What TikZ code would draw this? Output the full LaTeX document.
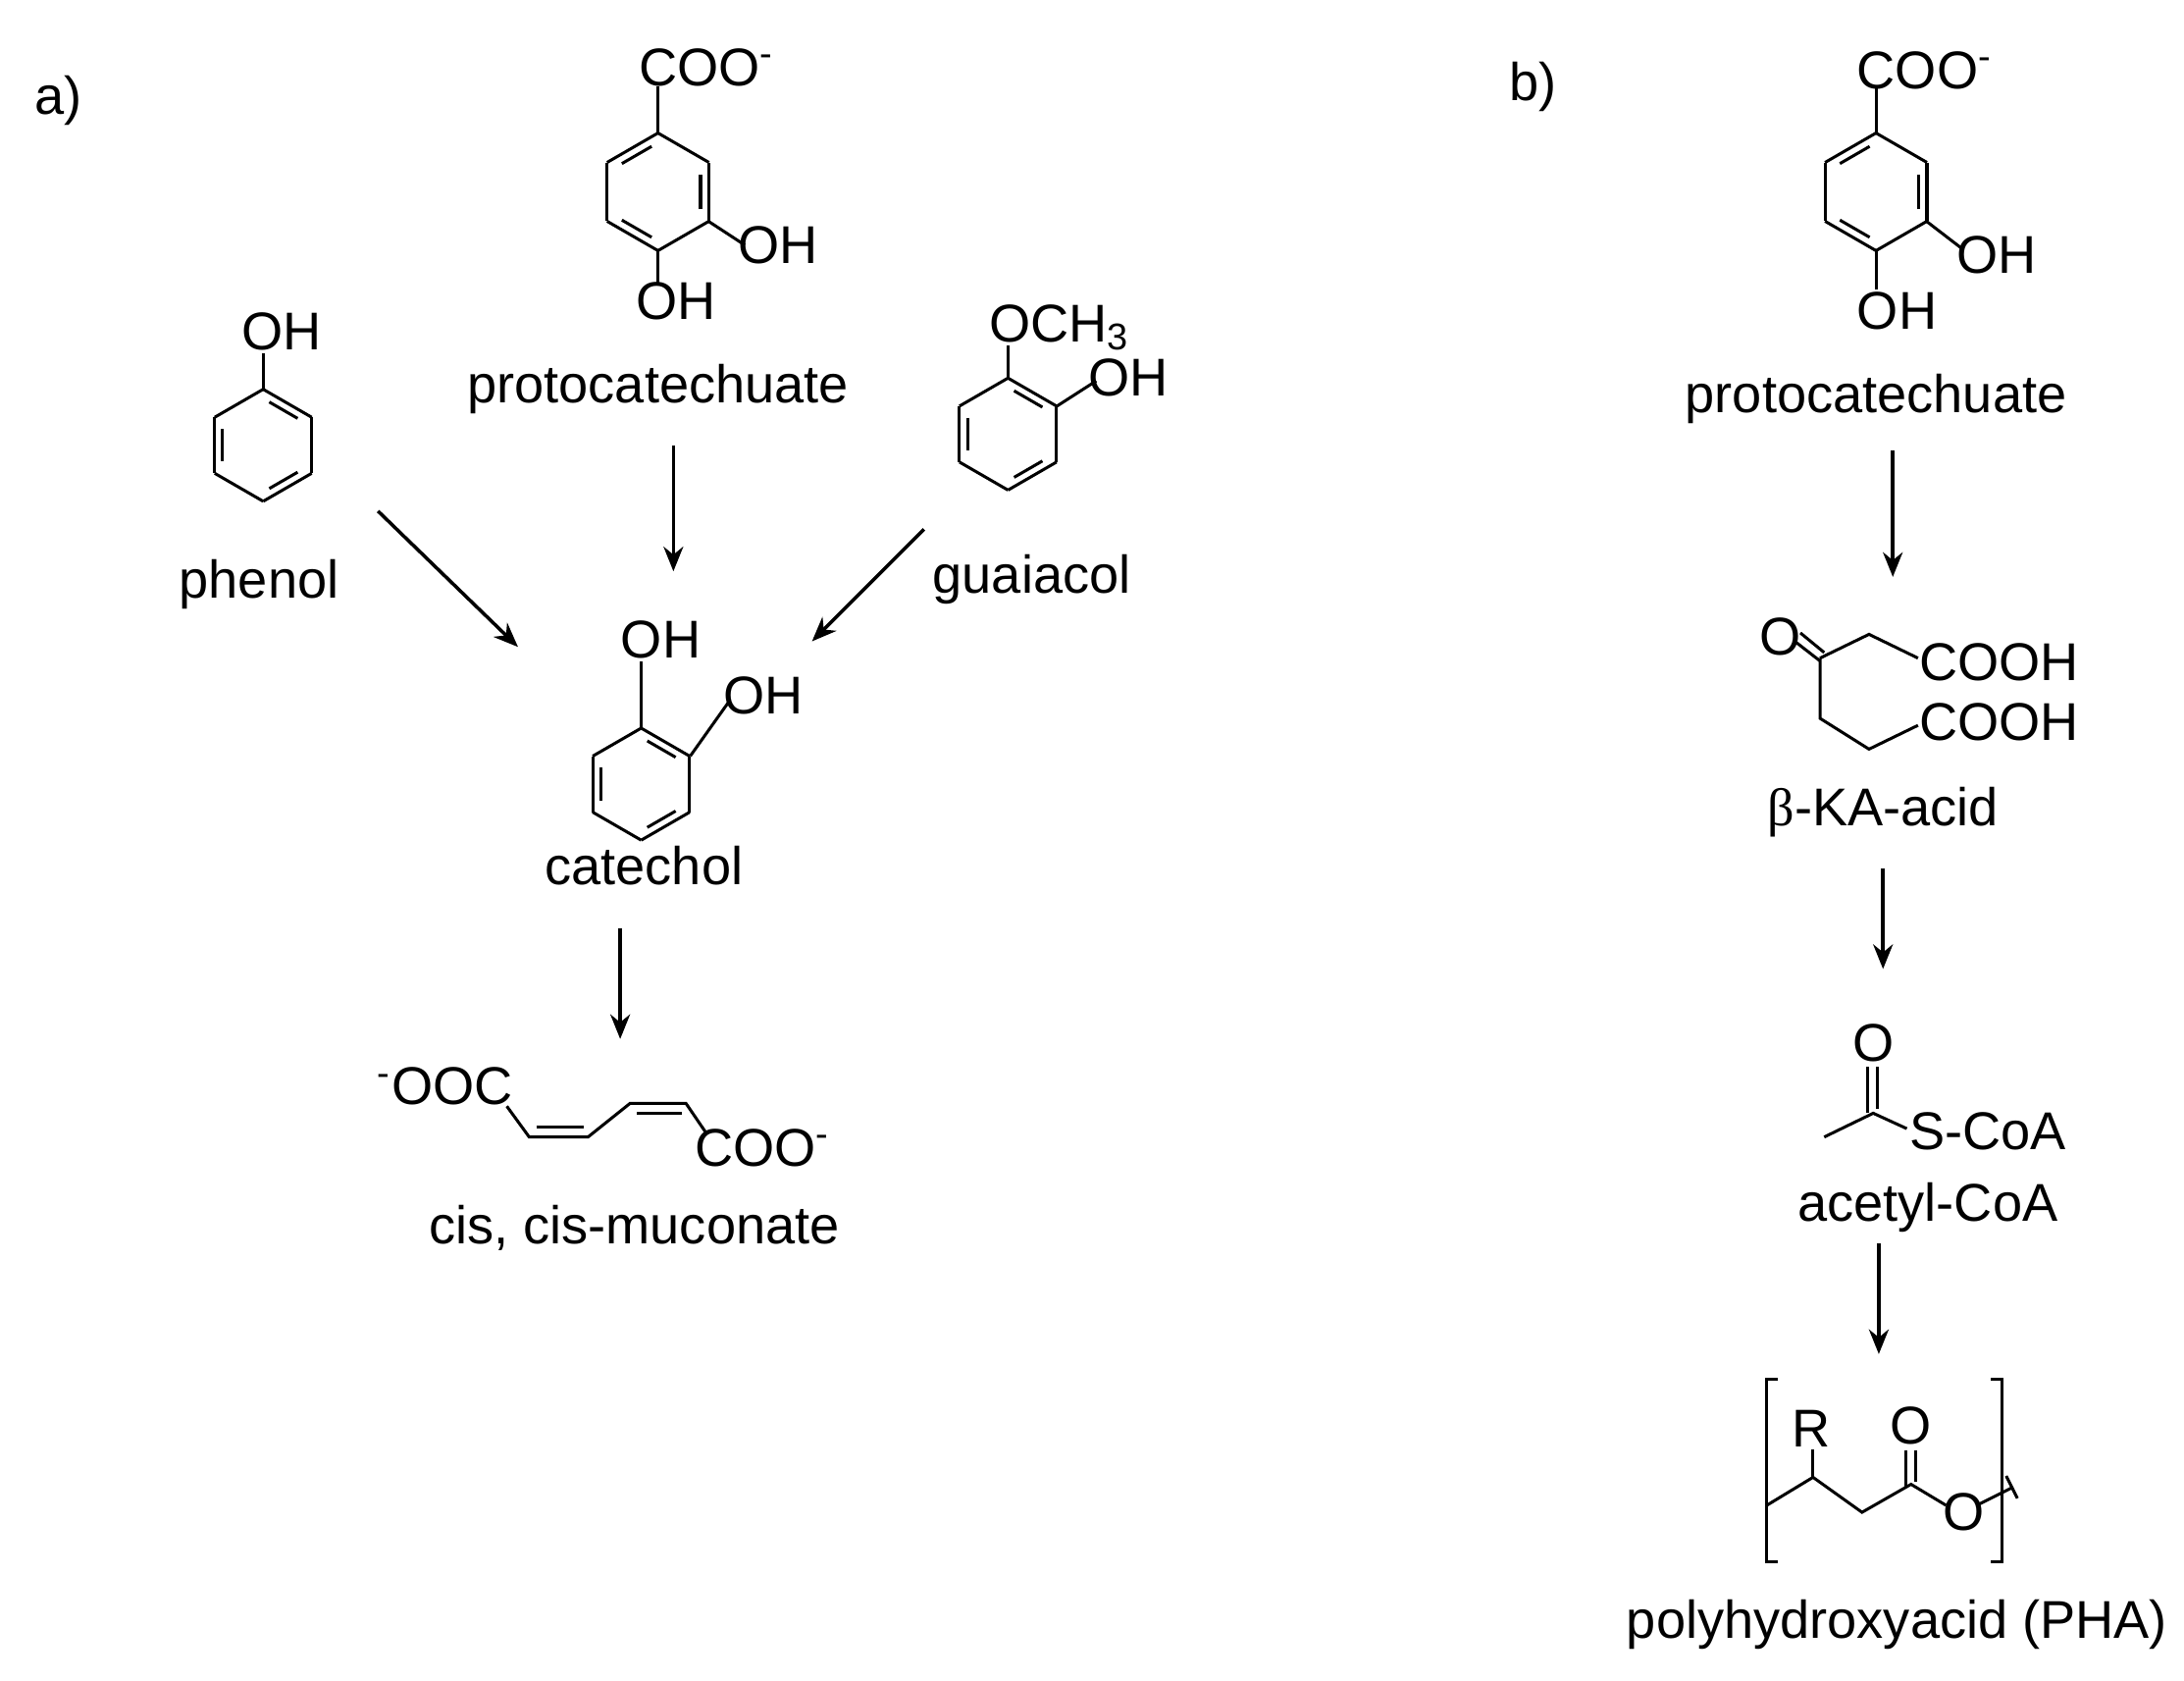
\documentclass[tikz,border=0pt]{standalone}
\usepackage{fontspec}
\setmainfont{Liberation Sans}
\newfontfamily\grk{Liberation Serif}
\usetikzlibrary{arrows.meta}
\begin{document}
\begin{tikzpicture}[x=0.01cm,y=-0.01cm,line width=0.6pt,
  lbl/.style={font=\fontsize{10.8}{13}\selectfont,inner sep=0pt},
  arr/.style={-{Stealth[length=5pt,width=4pt]},line width=0.7pt}]
\useasboundingbox (0,0) rectangle (1560,1200);
\newcommand{\ring}[4]{%
  \foreach \a in {0,...,5}{\draw ({#1+#3*cos(90+60*\a)},{#2-#3*sin(90+60*\a)}) -- ({#1+#3*cos(150+60*\a)},{#2-#3*sin(150+60*\a)});}
  \foreach \a in {#4}{\draw ({#1+0.78*#3*cos(90+60*\a+8)},{#2-0.78*#3*sin(90+60*\a+8)}) -- ({#1+0.78*#3*cos(150+60*\a-8)},{#2-0.78*#3*sin(150+60*\a-8)});}}
\node[lbl] (la) at (42,72) {a)};
\node[lbl] (lb) at (1095,62) {b)};
% protocatechuate a
\ring{470}{137}{42}{0,2,4}
\draw (470,95) -- (470,62);
\node[lbl] at (505,48) {COO\textsuperscript{-}};
\draw (506,158) -- (532,175);
\node[lbl] at (556,175) {OH};
\draw (470,179) -- (470,203);
\node[lbl] at (483,215) {OH};
\node[lbl] (pa) at (470,278) {protocatechuate};
% phenol
\ring{188}{318}{40}{1,3,5}
\draw (188,278) -- (188,252);
\node[lbl] at (201,237) {OH};
\node[lbl] (ph) at (185,417) {phenol};
% guaiacol
\ring{720}{310}{40}{1,3,5}
\draw (720,270) -- (720,247);
\node[lbl] at (757,234) {OCH\textsubscript{3}};
\draw (755,290) -- (783,272);
\node[lbl] at (806,270) {OH};
\node[lbl] (gu) at (737,414) {guaiacol};
% catechol
\ring{458}{560}{40}{1,3,5}
\draw (458,520) -- (458,472);
\node[lbl] at (472,457) {OH};
\draw (493,540) -- (520,502);
\node[lbl] at (545,497) {OH};
\node[lbl] (ca) at (460,618) {catechol};
% muconate
\node[lbl] at (318,776) {\textsuperscript{-}OOC};
\draw (362,790) -- (378,812) -- (420,812) -- (450,788) -- (490,788) -- (505,810);
\draw (383,805) -- (417,805);  \draw (455,795) -- (487,795);
\node[lbl] at (545,820) {COO\textsuperscript{-}};
\node[lbl] (mu) at (453,877) {cis, cis-muconate};
% arrows a
\draw[arr] (270,365) -- (370,462);
\draw[arr] (481,318) -- (481,408);
\draw[arr] (660,378) -- (580,458);
\draw[arr] (443,663) -- (443,742);
% b protocatechuate
\ring{1340}{137}{42}{0,2,4}
\draw (1340,95) -- (1340,62);
\node[lbl] at (1375,50) {COO\textsuperscript{-}};
\draw (1376,158) -- (1402,178);
\node[lbl] at (1426,182) {OH};
\draw (1340,179) -- (1340,207);
\node[lbl] at (1355,222) {OH};
\node[lbl] (pb) at (1340,285) {protocatechuate};
\draw[arr] (1352,322) -- (1352,412);
% beta-KA
\node[lbl] at (1272,455) {O};
\draw (1282,458) -- (1300,472); \draw (1286,452) -- (1303,466);
\draw (1300,470) -- (1335,453) -- (1370,470);
\draw (1300,470) -- (1300,513) -- (1335,535) -- (1370,518);
\node[lbl] at (1428,473) {COOH};
\node[lbl] at (1428,516) {COOH};
\node[lbl] (ka) at (1345,580) {{\grk β}-KA-acid};
\draw[arr] (1345,620) -- (1345,692);
% acetyl
\node[lbl] at (1338,745) {O};
\draw (1334,762) -- (1334,795); \draw (1341,762) -- (1341,792);
\draw (1303,812) -- (1338,795) -- (1362,806);
\node[lbl] at (1420,808) {S-CoA};
\node[lbl] (ac) at (1377,862) {acetyl-CoA};
\draw[arr] (1342,888) -- (1342,967);
% PHA
\draw (1270,985) -- (1262,985) -- (1262,1115) -- (1270,1115);
\draw (1422,985) -- (1430,985) -- (1430,1115) -- (1422,1115);
\draw (1262,1075) -- (1295,1055) -- (1330,1080) -- (1365,1060) -- (1390,1075);
\draw (1295,1055) -- (1295,1035);
\node[lbl] at (1294,1020) {R};
\draw (1361,1036) -- (1361,1062); \draw (1368,1036) -- (1368,1058);
\node[lbl] at (1365,1018) {O};
\node[lbl] at (1403,1080) {O};
\draw (1414,1074) -- (1438,1062);
\draw (1433,1054) -- (1441,1070);
\node[lbl] (pha) at (1355,1160) {polyhydroxyacid (PHA)};
\end{tikzpicture}
\end{document}
